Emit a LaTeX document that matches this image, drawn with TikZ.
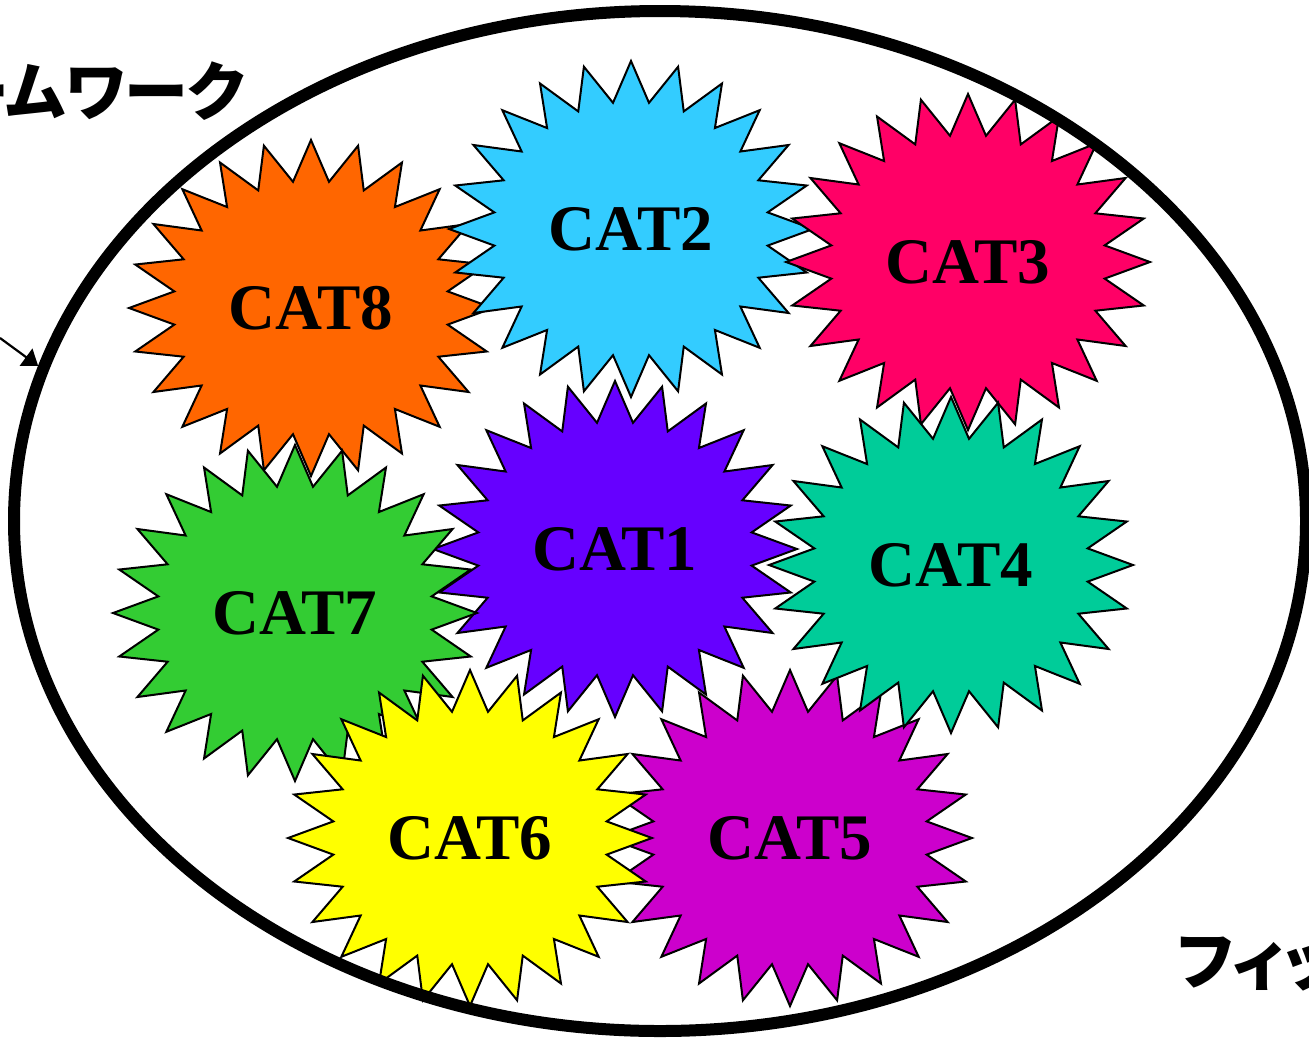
\documentclass[tikz,border=0pt]{standalone}
\usepackage{fontspec}
\setmainfont{Liberation Serif}
\newfontfamily\jpfont{Noto Sans CJK JP}[RawFeature=+palt]
\usepackage{xcolor}
\usetikzlibrary{arrows.meta,shapes.geometric}
\definecolor{catViolet}{HTML}{6600FF}
\definecolor{catSky}{HTML}{33CCFF}
\definecolor{catPink}{HTML}{FF0066}
\definecolor{catTeal}{HTML}{00CC99}
\definecolor{catMagenta}{HTML}{CC00CC}
\definecolor{catYellow}{HTML}{FFFF00}
\definecolor{catGreen}{HTML}{33CC33}
\definecolor{catOrange}{HTML}{FF6600}
\tikzset{
  catstar/.style={star,star points=24,star point ratio=1.32,
    minimum size=168pt,inner sep=0pt,xscale=1.083,
    draw=black,line width=1pt},
  catlbl/.style={font=\fontsize{32.5}{36}\selectfont\bfseries,
    text=black,inner sep=0pt},
  rimbox/.style={ellipse,draw=black,line width=6pt,inner sep=0pt,
    minimum width=646pt,minimum height=510pt},
  jplbl/.style={font=\jpfont\bfseries\fontsize{32}{36}\selectfont,
    inner sep=0pt},
  arr/.style={-{Triangle[length=7.5pt,width=10.5pt]},line width=1.1pt},
}
\begin{document}
\begin{tikzpicture}[x=0.5pt,y=-0.5pt]
  \useasboundingbox (0,0) rectangle (1309,1039);

  % the eight categories
  \node[catstar,fill=catViolet] (s1) at (615,549) {};
  \node[catstar,fill=catOrange] (s8) at (311,308) {};
  \node[catstar,fill=catSky] (s2) at (631,229) {};
  \node[catstar,fill=catPink] (s3) at (968,262) {};
  \node[catstar,fill=catMagenta] (s5) at (790,838) {};
  \node[catstar,fill=catTeal] (s4) at (951,565) {};
  \node[catstar,fill=catGreen] (s7) at (295,613) {};
  \node[catstar,fill=catYellow] (s6) at (470,838) {};

  \foreach \i in {1,...,8}
    \node[catlbl] (t\i) at (s\i) {CAT\i};

  % framework boundary
  \node[rimbox] (rim) at (660,521) {};

  \node[jplbl,anchor=base east] (fw) at (245,115) {ームワーク};
  \node[jplbl,anchor=base west] (fit) at (1177,984) {フィッ};

  \coordinate (src) at (0,338);
  \draw[arr] (src) -- (rim.166.8);

\end{tikzpicture}
\end{document}
